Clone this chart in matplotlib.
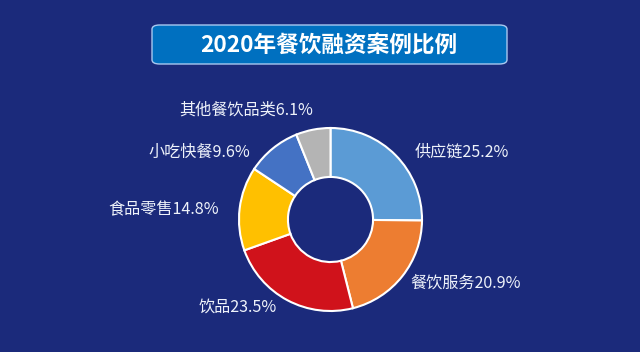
import matplotlib
matplotlib.use("Agg")
import matplotlib.pyplot as plt
from matplotlib.patches import FancyBboxPatch

plt.rcParams['font.family'] = ['Noto Sans CJK SC', 'DejaVu Sans']

title = "2020年餐饮融资案例比例"
categories = ["供应链", "餐饮服务", "饮品", "食品零售", "小吃快餐", "其他餐饮品类"]
values = [25.2, 20.9, 23.5, 14.8, 9.6, 6.1]
colors = ["#5b9bd5", "#ed7d31", "#d0121b", "#ffc000", "#4472c4", "#b4b4b4"]
labels = [f"{c}{v}%" for c, v in zip(categories, values)]

# label anchor layout (in units of outer radius), and alignment
label_xy = [(0.923, 0.738), (0.869, -0.694), (-0.585, -0.956),
            (-1.219, 0.104), (-0.880, 0.738), (-0.191, 1.197)]
label_ha = ["left", "left", "right", "right", "right", "right"]

bg = "#1b2a7b"
W, H = 640, 352
fig = plt.figure(figsize=(W / 100, H / 100), dpi=100, facecolor=bg)

# title box
box = FancyBboxPatch((152 / W, 1 - 64 / H), 355 / W, 39 / H,
                     boxstyle="round,pad=0,rounding_size=0.012",
                     transform=fig.transFigure, facecolor="#0070c0",
                     edgecolor="#a9c8f0", linewidth=1.0)
fig.patches.append(box)
fig.text(329 / W, 1 - 45 / H, title, color="white", fontsize=16.3,
         fontweight="bold", ha="center", va="center")

cx, cy, r = 330.5, 219.5, 91.5
ax = fig.add_axes([(cx - r) / W, (H - cy - r) / H, 2 * r / W, 2 * r / H])
ax.set_facecolor(bg)
wedges, _ = ax.pie(values, colors=colors, startangle=90,
                   counterclock=False, radius=1,
                   wedgeprops=dict(width=0.535, edgecolor="white", linewidth=1.5))
for lab, (lx, ly), ha in zip(labels, label_xy, label_ha):
    ax.text(lx, ly, lab, color="#eef2fa", fontsize=11.6, ha=ha, va="center")
ax.set_xlim(-1, 1)
ax.set_ylim(-1, 1)
ax.set_aspect("equal")
ax.axis("off")

fig.savefig("out.png", dpi=100, facecolor=bg)
